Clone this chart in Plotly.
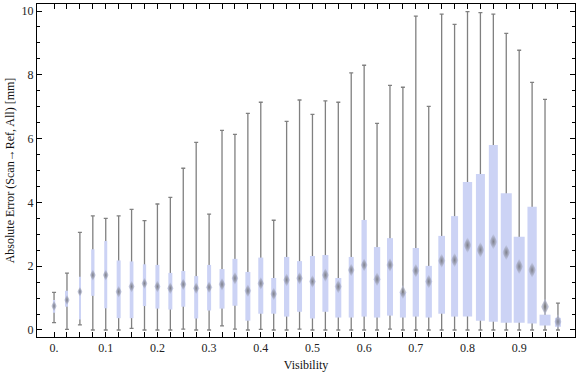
import plotly.graph_objects as go

# ---------------- data ----------------
visibility = [0.0, 0.025, 0.05, 0.075, 0.1, 0.125, 0.15, 0.175, 0.2, 0.225,
              0.25, 0.275, 0.3, 0.325, 0.35, 0.375, 0.4, 0.425, 0.45, 0.475,
              0.5, 0.525, 0.55, 0.575, 0.6, 0.625, 0.65, 0.675, 0.7, 0.725,
              0.75, 0.775, 0.8, 0.825, 0.85, 0.875, 0.9, 0.925, 0.95, 0.975]

whisker_lo = [0.23, 0.02, 0.16, 0.0, 0.0, 0.0, 0.05, 0.0, 0.0, 0.0,
              0.03, 0.0, 0.0, 0.13, 0.03, 0.0, 0.02, 0.0, 0.0, 0.03,
              0.0, 0.0, 0.0, 0.0, 0.0, 0.0, 0.03, 0.0, 0.0, 0.0,
              0.0, 0.0, 0.0, 0.0, 0.0, 0.0, 0.0, 0.0, 0.0, 0.0]
whisker_hi = [1.18, 1.78, 3.06, 3.58, 3.50, 3.58, 3.78, 3.43, 3.95, 4.16,
              5.07, 5.88, 3.63, 6.26, 6.13, 6.79, 7.14, 3.44, 6.54, 7.21,
              6.76, 7.18, 7.14, 8.06, 8.30, 6.48, 7.67, 7.61, 9.84, 7.01,
              9.90, 9.58, 9.98, 9.95, 9.90, 9.30, 8.77, 7.76, 7.23, 0.84]
q1 = [0.54, 0.73, 0.33, 1.07, 0.68, 0.37, 0.37, 0.75, 0.67, 0.64,
      0.73, 0.36, 0.61, 0.67, 0.76, 0.29, 0.51, 0.51, 0.42, 0.57,
      0.36, 0.57, 0.39, 0.39, 0.42, 0.39, 0.45, 0.39, 0.42, 0.39,
      0.51, 0.42, 0.42, 0.29, 0.26, 0.23, 0.23, 0.20, 0.14, 0.10]
q3 = [0.94, 1.23, 1.67, 2.53, 2.79, 2.18, 2.15, 2.06, 2.04, 1.79,
      1.85, 1.69, 2.04, 1.91, 2.23, 1.82, 2.27, 1.63, 2.29, 2.16,
      2.32, 2.35, 1.63, 2.29, 3.45, 2.60, 2.88, 1.17, 2.57, 2.01,
      2.95, 3.57, 4.64, 4.89, 5.80, 4.29, 2.92, 3.86, 0.48, 0.38]
mean = [0.75, 0.94, 1.20, 1.72, 1.72, 1.20, 1.36, 1.46, 1.36, 1.31,
        1.43, 1.31, 1.34, 1.43, 1.62, 1.23, 1.46, 1.13, 1.57, 1.62,
        1.52, 1.72, 1.36, 1.88, 2.04, 1.59, 2.04, 1.18, 1.86, 1.52,
        2.17, 2.19, 2.66, 2.51, 2.77, 2.43, 1.99, 1.88, 0.73, 0.26]

tick_labels = {0.0: "0.", 0.1: "0.1", 0.2: "0.2", 0.3: "0.3", 0.4: "0.4",
               0.5: "0.5", 0.6: "0.6", 0.7: "0.7", 0.8: "0.8", 0.9: "0.9"}

# ---------------- styling ----------------
# box widths as drawn in the reference (pixels)
box_px = [2.3, 2.0, 1.3, 3.3, 3.0, 4.0, 3.7, 3.3, 4.0, 4.0,
          4.0, 4.0, 4.0, 5.0, 5.0, 5.0, 5.0, 5.0, 5.3, 5.0,
          5.0, 6.0, 6.0, 5.0, 5.3, 6.3, 6.0, 6.0, 6.3, 6.3,
          6.7, 7.0, 9.3, 9.0, 9.0, 11.0, 11.0, 9.3, 11.0, 6.0]
PX_PER_UNIT = 516.9
box_w = [p / PX_PER_UNIT for p in box_px]
marker_size = [min(11.5, 6.5 + 0.6 * p) for p in box_px]

BOX_COLOR = "#ccd3f5"
WHISKER_COLOR = "#808080"
FONT = "Liberation Serif"

fig = go.Figure()

# whiskers (drawn first so boxes sit on top)
fig.add_trace(go.Bar(
    x=visibility,
    base=whisker_lo,
    y=[0] * len(visibility),
    width=0.002,
    marker=dict(color="rgba(0,0,0,0)", line=dict(width=0)),
    error_y=dict(type="data", symmetric=False,
                 array=[h - l for h, l in zip(whisker_hi, whisker_lo)],
                 arrayminus=[0] * len(visibility),
                 color=WHISKER_COLOR, thickness=1.3, width=2),
    hoverinfo="skip", showlegend=False,
))

# boxes
fig.add_trace(go.Bar(
    x=visibility,
    base=q1,
    y=[b - a for a, b in zip(q1, q3)],
    width=box_w,
    marker=dict(color=BOX_COLOR, line=dict(width=0)),
    showlegend=False,
))

# mean markers (soft diamonds)
fig.add_trace(go.Scatter(
    x=visibility, y=mean, mode="markers",
    marker=dict(symbol="diamond-tall", size=marker_size,
                color=BOX_COLOR,
                gradient=dict(type="radial", color="#5c5c5c"),
                line=dict(width=0)),
    showlegend=False,
))

ticktext = [tick_labels.get(round(v, 3), "") for v in visibility]

fig.update_layout(
    width=576, height=377,
    margin=dict(l=37, r=1, t=4, b=40),
    paper_bgcolor="white", plot_bgcolor="white",
    barmode="overlay",
    font=dict(family=FONT, size=12, color="#222"),
    xaxis=dict(
        range=[-0.033, 1.008], automargin=False,
        tickvals=visibility, ticktext=ticktext,
        ticks="inside", ticklen=5, tickwidth=1, tickcolor="black",
        showline=True, linecolor="black", linewidth=1, mirror="ticks",
        showgrid=False, zeroline=False,
        tickfont=dict(family=FONT, size=12, color="#222"),
        title=dict(text="Visibility", font=dict(family=FONT, size=12, color="#111"),
                   standoff=6),
    ),
    yaxis=dict(
        range=[-0.22, 10.22], automargin=False,
        tickvals=[0, 2, 4, 6, 8, 10],
        ticks="inside", ticklen=5, tickwidth=1, tickcolor="black",
        minor=dict(dtick=0.5, tick0=0, ticks="inside", ticklen=3,
                   tickwidth=1, tickcolor="black", showgrid=False),
        showline=True, linecolor="black", linewidth=1, mirror="ticks",
        showgrid=False, zeroline=False,
        tickfont=dict(family=FONT, size=12, color="#222"),
        title=dict(text="Absolute Error (Scan→Ref, All) [mm]",
                   font=dict(family=FONT, size=12, color="#111"), standoff=4),
    ),
)

fig.write_html("out.html",
               config={"displayModeBar": False},
               post_script="document.body.style.margin='0';"
                           "document.body.style.overflow='hidden';")
